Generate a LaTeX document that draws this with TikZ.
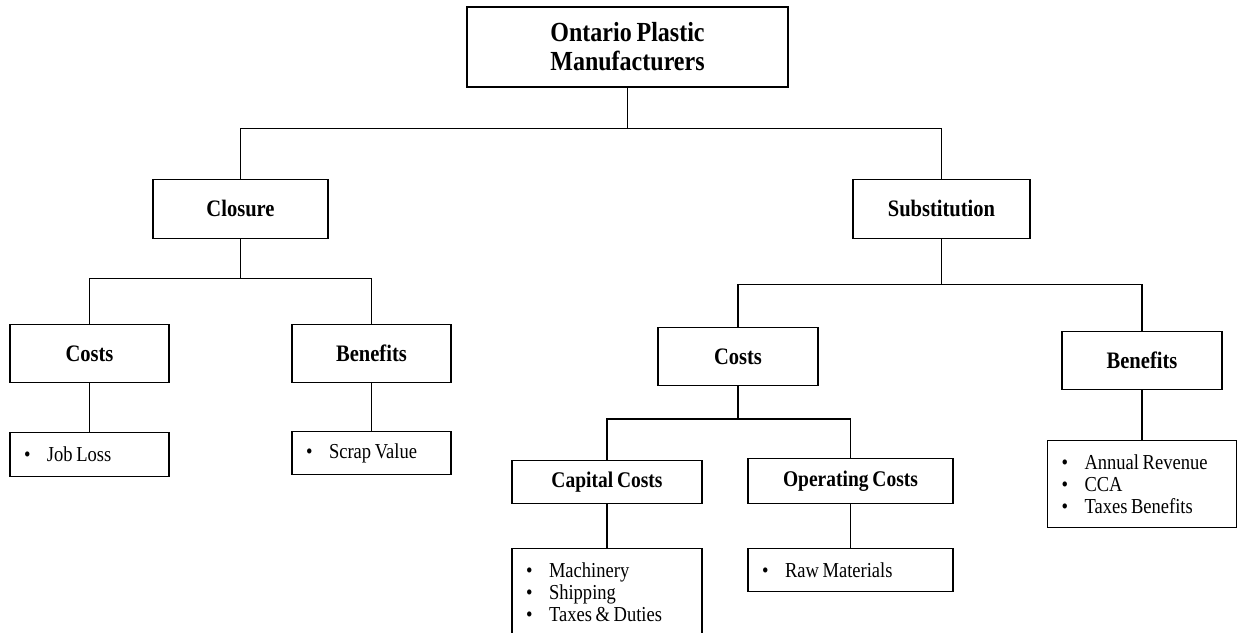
\documentclass[tikz,border=0pt]{standalone}
\usepackage{fontspec}
\setmainfont{Liberation Serif}[FakeStretch=0.87, WordSpace=0.8]
\usetikzlibrary{positioning}

\newcommand{\bitem}[1]{\spaceskip=0.17em\relax\hspace*{14pt}\makebox[23pt][l]{\textbullet}#1}

\begin{document}
\begin{tikzpicture}[
        box/.style={rectangle, draw, line width=1.2pt, inner sep=0pt, align=center, font=\bfseries\fontsize{23.6}{27}\selectfont},
        topbox/.style={box, minimum width=321pt, minimum height=80pt, font=\bfseries\fontsize{27.6}{29}\selectfont},
        midbox/.style={box, minimum width=#1, minimum height=58pt},
        smallbox/.style={box, minimum width=#1, minimum height=44pt, font=\bfseries\fontsize{22.4}{25}\selectfont},
        listbox/.style={rectangle, draw, line width=1.2pt, inner sep=0pt, align=left, text width=#1, minimum height=44pt, font=\fontsize{21.3}{22}\selectfont},
        link/.style={line width=1.2pt}
    ]
        \useasboundingbox (0,0) rectangle (1238pt,-632pt);

        \node[topbox] (top) at (627.5pt,-47pt) {Ontario Plastic\\Manufacturers};

        \node[midbox=175pt, minimum height=59pt, below=91pt of top, xshift=-387pt] (closure) {Closure};
        \node[midbox=177pt, minimum height=59pt, below=91pt of top, xshift=314pt] (subst) {Substitution};

        % closure branch
        \node[midbox=159pt, below=85pt of closure, xshift=-151pt] (ccost) {Costs};
        \node[midbox=159pt, below=85pt of closure, xshift=131pt] (cben) {Benefits};
        \node[listbox=159pt, below=49pt of ccost] (jobloss) {\bitem{Job Loss}};
        \node[listbox=159pt, minimum height=43pt, below=48pt of cben] (scrap) {\bitem{Scrap Value}};

        % substitution branch
        \node[midbox=160pt, below=88pt of subst, xshift=-203.5pt] (scost) {Costs};
        \node[midbox=160pt, below=92pt of subst, xshift=200.5pt] (sben) {Benefits};
        \node[smallbox=190pt, minimum height=43pt, below=74pt of scost, xshift=-131pt] (capital) {Capital Costs};
        \node[smallbox=205pt, minimum height=45pt, below=72pt of scost, xshift=112.5pt] (operating) {Operating Costs};
        \node[listbox=190pt, minimum height=86pt, below=44pt of capital] (machinery) {\bitem{Machinery}\\\bitem{Shipping}\\\bitem{Taxes \& Duties}};
        \node[listbox=205pt, minimum height=43pt, below=44pt of operating] (raw) {\bitem{Raw Materials}};
        \node[listbox=189pt, minimum height=87pt, below=50pt of sben] (benlist) {\bitem{Annual Revenue}\\\bitem{CCA}\\\bitem{Taxes Benefits}};

        % junctions
        \coordinate[below=41pt of top.south] (j1);
        \coordinate[below=40pt of closure.south] (j2);
        \coordinate[below=46pt of subst.south] (j3);
        \coordinate[below=33pt of scost.south] (j4);

        \draw[link] (top.south) -- (j1);
        \draw[link] (closure.north) |- (j1) -| (subst.north);
        \draw[link] (closure.south) -- (j2);
        \draw[link] (ccost.north) |- (j2) -| (cben.north);
        \draw[link] (subst.south) -- (j3);
        \draw[link] (scost.north) |- (j3) -| (sben.north);
        \draw[link] (scost.south) -- (j4);
        \draw[link] (capital.north) |- (j4) -| (operating.north);

        \draw[link] (ccost) -- (jobloss);
        \draw[link] (cben) -- (scrap);
        \draw[link] (capital) -- (machinery);
        \draw[link] (operating) -- (raw);
        \draw[link] (sben) -- (benlist);
    \end{tikzpicture}
\end{document}
